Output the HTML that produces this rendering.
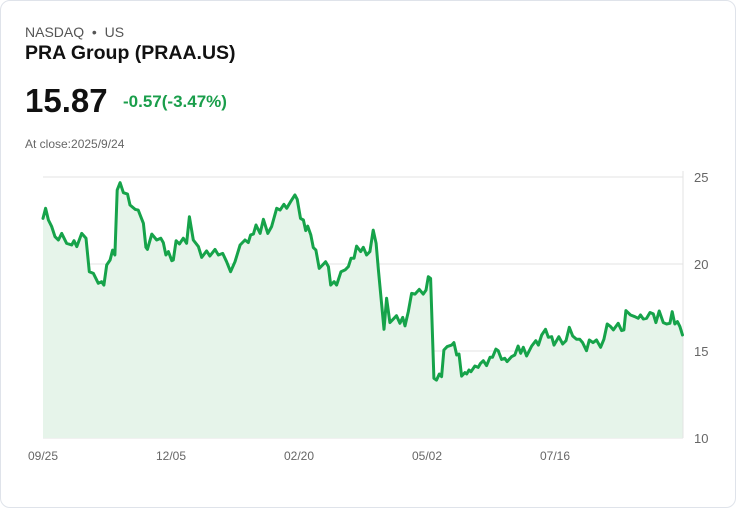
<!DOCTYPE html>
<html><head><meta charset="utf-8">
<style>
body{margin:0;background:#fff;font-family:"Liberation Sans",sans-serif;}
.card{position:absolute;left:0;top:0;width:734px;height:506px;border:1px solid #dfe3ea;border-radius:10px;background:#fff;}
.t{position:absolute;white-space:nowrap;}
</style></head><body>
<div class="card">
<div class="t" style="left:24px;top:23px;font-size:14px;color:#555;">NASDAQ&nbsp; • &nbsp;US</div>
<div class="t" style="left:24px;top:41px;font-size:19.5px;font-weight:bold;color:#111;">PRA Group (PRAA.US)</div>
<div class="t" style="left:24px;top:81px;font-size:33px;font-weight:bold;color:#111;">15.87</div>
<div class="t" style="left:122px;top:91px;font-size:17px;font-weight:bold;color:#1a9e4b;">-0.57(-3.47%)</div>
<div class="t" style="left:24px;top:136px;font-size:12px;color:#666;">At close:2025/9/24</div>
<svg id="chart" width="736" height="508" style="position:absolute;left:-1px;top:-1px;"></svg>
</div>
<script>
const days=[0,1.0,2.1,3.4,4.7,6.0,7.3,9.2,11.2,12.1,13.2,15.1,16.8,18.1,19.7,21.6,22.9,23.8,24.9,26.2,27.2,28.1,29.0,30.1,31.4,33.0,34.0,36.0,37.2,39.2,40.2,40.8,42.5,44.4,46.0,47.0,48.0,49.0,50.3,50.9,52.0,53.3,54.8,56.1,57.2,58.7,60.7,62.0,63.9,65.2,67.2,68.5,70.2,71.7,73.3,75.0,77.0,78.9,80.2,81.1,82.2,83.2,84.8,86.1,87.8,89.3,91.3,92.6,94.1,95.2,96.7,98.4,99.3,100.6,101.7,102.6,103.4,104.6,105.6,106.6,107.9,109.2,110.4,111.5,112.4,113.7,114.7,116.4,118.0,119.3,120.3,121.5,122.5,124.1,125.1,126.4,127.7,129.0,130.1,131.0,133.2,134.2,135.5,138.1,139.4,140.5,141.4,142.7,144.0,145.3,147.0,148.5,149.6,150.5,151.4,152.7,153.7,154.8,155.7,156.6,157.9,159.6,160.5,161.6,162.5,163.5,164.8,165.5,166.4,167.2,168.7,170.0,170.9,172.0,173.3,174.6,175.6,176.9,177.8,179.1,180.4,181.3,183.0,184.3,185.6,186.6,187.6,188.9,190.9,192.5,193.5,194.8,196.3,197.4,198.7,199.6,201.5,203.0,204.3,205.6,206.9,208.4,209.7,210.8,212.3,213.4,214.9,216.2,217.8,219.1,220.4,221.7,222.8,224.7,226.0,226.9,227.7,229.5,231.2,232.5,233.4,234.5,235.8,237.1,238.4,239.4,240.7,242.3,243.6,244.9,245.8,246.8,247.8,248.8,249.8];
const prices=[22.62,23.20,22.53,22.15,21.57,21.38,21.76,21.19,21.09,21.34,21.0,21.76,21.48,19.56,19.46,18.89,18.98,18.79,19.94,20.23,20.80,20.52,24.25,24.67,24.10,24.02,23.39,23.14,23.10,22.34,20.96,20.84,21.72,21.38,21.48,21.23,20.52,20.71,20.19,20.23,21.34,21.15,21.48,21.19,22.72,21.38,21.0,20.38,20.75,20.46,20.84,20.52,20.61,20.13,19.56,20.13,21.09,21.38,21.23,21.67,21.72,22.24,21.76,22.57,21.76,22.15,23.20,23.10,23.43,23.20,23.58,23.97,23.72,22.62,22.53,21.92,22.18,21.67,20.94,20.80,19.75,19.94,20.13,19.85,18.79,18.98,18.79,19.56,19.66,19.85,20.33,20.33,21.03,20.71,20.96,20.52,20.71,21.95,21.19,19.66,16.25,18.03,16.63,17.03,16.59,16.93,16.44,17.26,18.31,18.27,18.54,18.27,18.50,19.27,19.17,13.43,13.33,13.68,13.53,15.06,15.25,15.34,15.48,14.77,14.83,13.56,13.76,13.68,13.91,13.81,14.14,14.06,14.29,14.44,14.16,14.64,14.64,15.11,15.02,14.52,14.58,14.39,14.67,14.77,15.29,14.87,15.21,14.71,15.29,15.59,15.34,15.92,16.25,15.79,15.82,15.34,15.82,15.40,15.59,16.36,15.86,15.67,15.67,15.48,15.02,15.63,15.48,15.63,15.21,15.67,16.55,16.40,16.21,16.59,16.17,16.21,17.32,17.07,16.97,16.88,17.07,16.84,16.88,17.21,17.13,16.63,17.30,16.63,16.55,16.59,17.26,16.55,16.69,16.40,15.92];
const yTicks=[25,20,15,10];
const xTickLabels=["09/25","12/05","02/20","05/02","07/16"];
const xTickDays=[0,50,100,150,200];

const NS="http://www.w3.org/2000/svg";
const svg=document.getElementById('chart');
const X0=43,X1=683,Y0=438,Y1=177;
const xs=d=>X0+(d-0)/250*(X1-X0);
const ys=v=>Y0-(v-10)/15*(Y0-Y1);
function mk(tag,attrs){const e=document.createElementNS(NS,tag);for(const k in attrs)e.setAttribute(k,attrs[k]);svg.appendChild(e);return e;}
yTicks.forEach(v=>{
  const l=mk('line',{x1:X0,x2:X1,y1:ys(v),y2:ys(v),stroke:'#e3e3e3','stroke-width':1});
  
  
  const t=mk('text',{x:694,y:ys(v)+5,'font-size':13,fill:'#666','font-family':'Liberation Sans, sans-serif'});
  t.textContent=v;
  
  
});
const ax=mk('line',{x1:X1,x2:X1,y1:Y1-6,y2:Y0,stroke:'#e3e3e3','stroke-width':1});


xTickLabels.forEach((s,i)=>{
  const t=mk('text',{x:xs(xTickDays[i]),y:460,'font-size':12,fill:'#666','text-anchor':'middle','font-family':'Liberation Sans, sans-serif'});
  t.textContent=s;
  
  
});
let d='';
days.forEach((dd,i)=>{d+=(i?'L':'M')+xs(dd).toFixed(1)+','+ys(prices[i]).toFixed(1);});
const area=mk('path',{d:d+'L'+xs(days[days.length-1]).toFixed(1)+','+Y0+'L'+xs(days[0])+','+Y0+'Z',fill:'#e6f4ea'});


const line=mk('path',{d:d,fill:'none',stroke:'#16a34a','stroke-width':3,'stroke-linejoin':'round','stroke-linecap':'round'});


</script>
</body></html>
